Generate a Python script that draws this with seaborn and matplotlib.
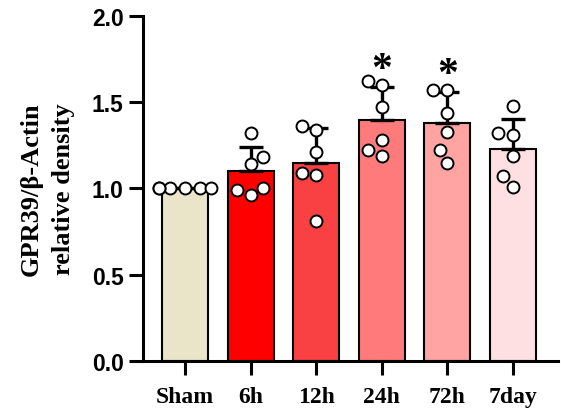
import numpy as np
import pandas as pd
import matplotlib
matplotlib.use('Agg')
import matplotlib.pyplot as plt
import seaborn as sns

# values
groups = ['Sham', '6h', '12h', '24h', '72h', '7day']
sham = [1.00, 1.00, 1.00, 1.00, 1.00, 1.00]
h6 = [0.96, 1.00, 0.99, 1.18, 1.14, 1.32]
h12 = [1.36, 1.34, 1.21, 1.08, 1.09, 0.81]
h24 = [1.62, 1.60, 1.47, 1.28, 1.19, 1.22]
h72 = [1.57, 1.57, 1.44, 1.33, 1.22, 1.15]
d7 = [1.48, 1.32, 1.31, 1.19, 1.07, 1.01]
signif = ['', '', '', '*', '*', '']
colors = ['#EAE5C9', '#FF0000', '#F94144', '#FF7B7B', '#FFA3A3', '#FFE0E2']

df = pd.DataFrame({
    'group': np.repeat(groups, 6),
    'value': sham + h6 + h12 + h24 + h72 + d7,
})
stats = df.groupby('group', sort=False)['value'].agg(['mean', 'std'])

sns.set_style('ticks', {'axes.edgecolor': 'black', 'xtick.color': 'black',
                        'ytick.color': 'black', 'text.color': 'black',
                        'axes.labelcolor': 'black'})
fig = plt.figure(figsize=(5.61, 4.14), dpi=100)
ax = fig.add_axes([0.255, 0.126, 0.74, 0.833])

sns.barplot(data=df, x='group', y='value', order=groups, hue='group',
            palette=colors, saturation=1, errorbar=None, width=0.7,
            edgecolor='black', linewidth=1.5, legend=False, ax=ax, zorder=1)
x = np.arange(len(groups))
# GraphPad style: mean + SD drawn upward only
ax.errorbar(x, stats['mean'], yerr=[np.zeros(len(groups)), stats['std']],
            fmt='none', ecolor='black', elinewidth=2.4, capsize=8.5,
            capthick=2.4, zorder=2)
sns.swarmplot(data=df, x='group', y='value', order=groups, color='white',
              edgecolor='black', linewidth=1.4, size=8.6, ax=ax, zorder=3)

for i, s in enumerate(signif):
    if s:
        top = stats['mean'].iloc[i] + stats['std'].iloc[i]
        ax.text(i, top + 0.10, s, ha='center', va='center', fontsize=30,
                fontfamily='Liberation Serif', fontweight='bold', zorder=4)

ax.set_ylim(0, 2.0)
ax.set_xlim(-0.64, 5.69)
ax.set_yticks([0.0, 0.5, 1.0, 1.5, 2.0])
ax.set_yticklabels(['0.0', '0.5', '1.0', '1.5', '2.0'],
                   fontfamily='Liberation Sans', fontweight='bold', fontsize=16.5)
ax.set_xticks(x)
ax.set_xticklabels(groups, fontfamily='Liberation Serif', fontweight='bold',
                   fontsize=17)
ax.set_xlabel('')
ax.set_ylabel('GPR39/β-Actin\nrelative density', fontfamily='Liberation Serif',
              fontweight='bold', fontsize=19, labelpad=12, linespacing=1.5)
for side in ['top', 'right']:
    ax.spines[side].set_visible(False)
for side in ['left', 'bottom']:
    ax.spines[side].set_linewidth(2.2)
ax.tick_params(axis='both', width=2.2, length=10)
ax.tick_params(axis='x', pad=8)
ax.tick_params(axis='y', pad=4)

fig.savefig('out.png', dpi=100)
